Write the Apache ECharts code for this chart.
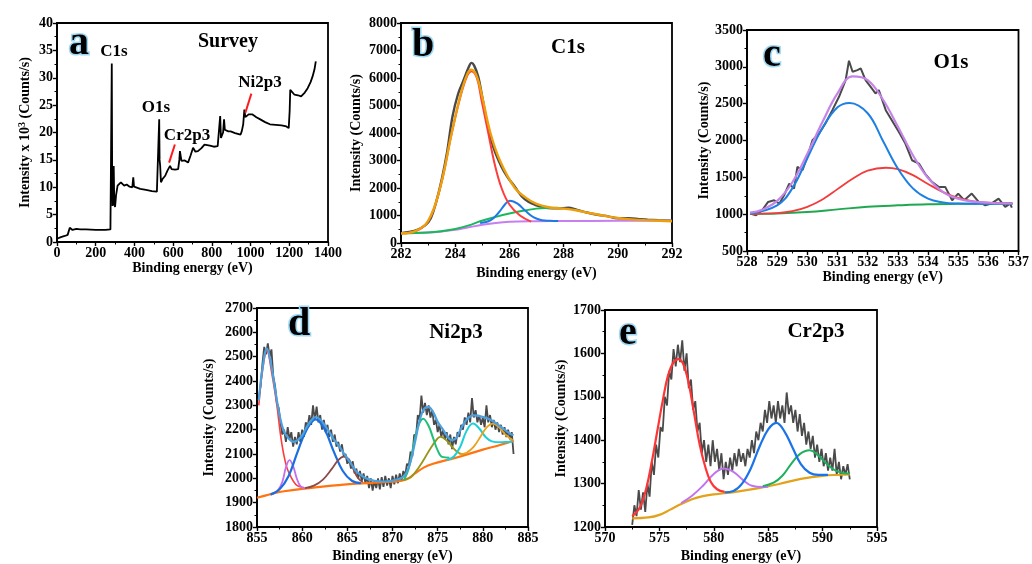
<!DOCTYPE html>
<html>
<head>
<meta charset="utf-8">
<style>html,body{margin:0;background:#fff}#chart{width:1032px;height:564px}</style>
</head>
<body>
<div id="chart"></div>
<script src="https://cdn.jsdelivr.net/npm/echarts@6/dist/echarts.min.js"></script>
<script>
// ---- (a) survey, intensity in 10^3 counts/s ----
var surveyData = [[0,0.6],[20,0.9],[40,1.1],[55,1.3],[62,1.5],[66,2.6],[70,2.3],[80,2.2],[100,2.4],[120,2.3],[150,2.3],[200,2.2],[250,2.2],[276,2.3],[280,2.6],[283,32.6],[285,12],[287,6.6],[290,7.5],[293,13.9],[296,7],[300,6.4],[305,8.5],[313,10.3],[320,10],[330,10.9],[340,10.6],[347,10.3],[360,10.5],[375,10.1],[389,10],[394,11.8],[398,10.1],[406,9.8],[430,9.7],[460,9.5],[490,9.3],[516,9.2],[525,9.1],[528,22.4],[530,15],[533,13.9],[537,10.9],[545,11.5],[559,12.1],[570,13],[584,13.9],[592,13.3],[610,13.2],[626,13.3],[632,15],[635,16.6],[643,14.8],[660,14.9],[677,14.5],[690,15.8],[703,17.2],[715,16.5],[728,16.6],[745,17.1],[762,17.8],[790,17.6],[810,17.4],[830,17.5],[838,17.2],[843,23],[847,19],[850,19.3],[858,20],[863,22.4],[867,20.5],[872,20.5],[885,20.2],[897,20.2],[920,19.9],[948,19.6],[955,20.3],[962,21.5],[968,24.2],[973,22.8],[979,23],[990,23.3],[999,23.6],[1010,23.3],[1030,22.8],[1050,22.4],[1075,21.9],[1100,21.5],[1130,21.4],[1160,21.3],[1185,21.1],[1197,20.8],[1202,24],[1205,27.8],[1212,27.5],[1227,26.9],[1245,26.8],[1261,26.6],[1280,27.3],[1295,28.1],[1310,29.2],[1320,30.2],[1330,31.5],[1337,33.0]];

// ---- (b) C1s ----
var c1sRaw = [[282.0,360],[282.3,400],[282.6,480],[282.9,650],[283.1,900],[283.3,1500],[283.5,2300],[283.7,3300],[283.9,4600],[284.1,5400],[284.3,5900],[284.5,6400],[284.6,6550],[284.7,6450],[284.85,6050],[285.0,5300],[285.2,4250],[285.4,3500],[285.6,3000],[285.8,2600],[286.0,2300],[286.2,2050],[286.45,1700],[286.7,1500],[286.94,1390],[287.2,1320],[287.43,1270],[287.8,1260],[288.17,1280],[288.5,1200],[288.9,1100],[289.3,1020],[289.64,970],[290.0,900],[290.4,900],[290.8,870],[291.1,850],[291.5,830],[292.0,810]];
var c1sEnvelope = [[282,350],[282.5,420],[283,800],[283.44,2000],[283.87,4000],[284.2,5400],[284.45,6150],[284.6,6300],[284.8,6050],[285.0,5300],[285.3,4000],[285.65,3000],[286.2,2000],[286.6,1650],[287,1420],[287.5,1290],[288,1250],[288.5,1180],[289,1080],[289.5,990],[290,910],[290.5,860],[291,830],[292,790]];
var c1sPeakCC = [[282,350],[282.5,415],[283,790],[283.44,1980],[283.87,3980],[284.2,5350],[284.45,6100],[284.6,6250],[284.8,6000],[284.97,5200],[285.22,4000],[285.45,2900],[285.71,2000],[286,1400],[286.39,1000],[286.8,780]];
var c1sPeakCO = [[284.92,727],[285.3,820],[285.6,1100],[285.85,1420],[286.02,1538],[286.3,1430],[286.6,1160],[286.9,930],[287.2,830],[287.5,810],[287.8,800]];
var c1sPeakOCO = [[282,350],[283,380],[283.5,430],[284,510],[284.5,640],[284.92,790],[285.5,950],[286,1070],[286.5,1170],[287,1250],[287.4,1275],[287.8,1282]];
var c1sBackground = [[282,360],[283,380],[283.5,420],[284,480],[284.5,570],[285,660],[285.5,730],[286,770],[287,790],[288,800],[290,805],[292,810]];

// ---- (c) O1s ----
var o1sRaw = [[528.1,1007],[528.3,985],[528.5,1053],[528.7,1166],[528.9,1189],[529.07,1143],[529.23,1257],[529.4,1415],[529.56,1347],[529.67,1642],[529.84,1596],[530.0,1778],[530.17,2004],[530.39,2095],[530.6,2231],[530.83,2412],[531.05,2593],[531.27,2820],[531.38,3083],[531.5,2933],[531.66,2956],[531.77,2978],[531.93,2820],[532.1,2729],[532.26,2639],[532.37,2684],[532.6,2412],[532.8,2276],[533.03,2118],[533.25,1959],[533.47,1732],[533.7,1687],[533.9,1551],[534.13,1438],[534.35,1370],[534.57,1370],[534.8,1189],[535.0,1279],[535.2,1189],[535.45,1279],[535.68,1166],[535.9,1121],[536.1,1143],[536.34,1211],[536.56,1098],[536.72,1143],[536.78,1089]];
var o1sEnvelope = [[528.1,1020],[528.5,1060],[529,1180],[529.5,1430],[530,1820],[530.5,2250],[531,2640],[531.5,2870],[532,2820],[532.5,2560],[533,2190],[533.5,1800],[534,1490],[534.5,1300],[535,1210],[535.5,1170],[536,1155],[536.8,1145]];
var o1sPeakLattice = [[528.1,1010],[529,1120],[529.5,1350],[530,1760],[530.5,2170],[531,2450],[531.4,2510],[532,2370],[532.5,2000],[533,1620],[533.5,1350],[534,1210],[534.5,1160],[535,1145],[535.5,1142],[536.8,1142]];
var o1sPeakAdsorbed = [[528.1,1005],[529,1015],[529.5,1040],[530,1100],[530.5,1200],[531,1340],[531.5,1480],[532,1590],[532.6,1630],[533,1610],[533.5,1530],[534,1410],[534.5,1300],[535,1220],[535.5,1175],[536,1155],[536.8,1145]];
var o1sBackground = [[528.1,1005],[529,1010],[530,1030],[531,1065],[532,1100],[533,1120],[534,1135],[535,1140],[536.8,1145]];

// ---- (d) Ni2p3 ----
var ni2pRaw = [
  [855.2,2330],[855.4,2380],[855.6,2470],[855.8,2540],[856.0,2510],[856.2,2555],[856.4,2500],[856.6,2530],[856.8,2420],[857.0,2380],
  [857.2,2310],[857.4,2290],[857.6,2230],[857.8,2180],[858.0,2200],[858.2,2150],[858.4,2210],[858.6,2160],[858.8,2190],[859.0,2130],
  [859.2,2170],[859.4,2140],[859.6,2190],[859.8,2150],[860.0,2200],[860.2,2170],[860.4,2230],[860.6,2210],[860.8,2260],[861.0,2220],
  [861.2,2300],[861.4,2240],[861.6,2295],[861.8,2230],[862.0,2260],[862.2,2200],[862.4,2240],[862.6,2190],[862.8,2220],[863.0,2170],
  [863.2,2200],[863.4,2150],[863.6,2180],[863.8,2130],[864.0,2150],[864.2,2110],[864.4,2140],[864.6,2090],[864.8,2100],[865.0,2060],
  [865.2,2080],[865.4,2040],[865.6,2070],[865.8,2020],[866.0,2040],[866.2,2000],[866.4,2030],[866.6,1990],[866.8,2020],[867.0,1980],
  [867.2,2010],[867.4,1960],[867.6,2000],[867.8,1950],[868.0,1990],[868.2,1960],[868.4,2000],[868.6,1955],[868.8,2005],[869.0,1965],
  [869.2,2010],[869.4,1970],[869.6,2000],[869.8,1960],[870.0,2010],[870.2,1975],[870.4,2015],[870.6,1980],[870.8,2020],[871.0,1990],
  [871.2,2030],[871.4,2010],[871.6,2060],[871.8,2050],[872.0,2110],[872.2,2090],[872.4,2180],[872.6,2170],[872.8,2260],[873.0,2240],
  [873.2,2340],[873.4,2270],[873.6,2310],[873.8,2260],[874.0,2300],[874.2,2250],[874.4,2280],[874.6,2220],[874.8,2240],[875.0,2190],
  [875.2,2220],[875.4,2170],[875.6,2200],[875.8,2160],[876.0,2190],[876.2,2140],[876.4,2180],[876.6,2120],[876.8,2170],[877.0,2140],
  [877.2,2190],[877.4,2170],[877.6,2220],[877.8,2200],[878.0,2250],[878.2,2220],[878.4,2270],[878.6,2230],[878.8,2330],[879.0,2250],
  [879.2,2280],[879.4,2230],[879.6,2260],[879.8,2220],[880.0,2250],[880.2,2210],[880.4,2300],[880.6,2230],[880.8,2260],[881.0,2210],
  [881.2,2240],[881.4,2200],[881.6,2230],[881.8,2190],[882.0,2220],[882.2,2180],[882.4,2210],[882.6,2170],[882.8,2200],[883.0,2160],
  [883.2,2190],[883.4,2100]
];
var ni2pEnvelope = [[855.2,2320],[855.6,2450],[856.1,2533],[856.6,2460],[857,2367],[857.5,2259],[858,2191],[858.5,2164],[859,2150],[859.5,2157],[860,2177],[860.5,2211],[861,2238],[861.5,2252],[862,2242],[862.5,2218],[863,2191],[863.5,2160],[864,2137],[864.5,2109],[865,2082],[865.5,2055],[866,2028],[867,2001],[868,1990],[869,1987],[870,1991],[871,2001],[871.5,2021],[872,2069],[872.5,2150],[873,2238],[873.5,2286],[874,2293],[874.5,2272],[875,2232],[875.5,2205],[876,2177],[876.5,2157],[877,2164],[877.5,2198],[878,2232],[878.5,2252],[879,2259],[880,2252],[881,2238],[882,2211],[883,2184],[883.4,2177]];
var ni2pPeak1 = [[855.2,2300],[855.6,2440],[856.1,2525],[856.6,2440],[857.2,2300],[857.6,2180],[857.95,2100],[858.3,2045],[858.7,2010],[859.3,1975],[859.8,1965],[860.2,1962]];
var ni2pPeak2 = [[856.7,1935],[857.3,1950],[857.8,1985],[858.2,2045],[858.6,2075],[859,2050],[859.4,2000],[859.8,1968],[860.3,1958]];
var ni2pPeak3 = [[856.5,1933],[857.5,1955],[858.5,2010],[859.5,2110],[860.5,2200],[861.5,2242],[862.5,2200],[863.5,2110],[864.5,2030],[865.5,1990],[866.5,1980]];
var ni2pPeak4 = [[860.3,1960],[861.3,1970],[862.3,1995],[863.3,2040],[864,2075],[864.6,2089],[865.2,2075],[865.7,2035],[866.2,2000],[866.7,1985]];
var ni2pPeak5 = [[871.3,1995],[871.8,2040],[872.3,2130],[872.8,2210],[873.4,2245],[874,2215],[874.5,2165],[875,2115],[875.5,2088],[876.3,2085]];
var ni2pPeak6 = [[871,1992],[872,2005],[873,2050],[874,2110],[874.7,2150],[875.3,2170],[876,2155],[876.7,2125],[877.3,2105],[878,2098]];
var ni2pPeak7 = [[876,2075],[876.8,2090],[877.5,2130],[878.2,2195],[878.9,2225],[879.6,2205],[880.3,2170],[881,2152],[882,2148],[883.3,2150]];
var ni2pPeak8 = [[877.4,2098],[878.2,2105],[879,2130],[879.8,2175],[880.5,2212],[881.1,2225],[881.8,2210],[882.5,2180],[883.3,2158]];
var ni2pBackground = [[855,1920],[856,1930],[857,1940],[858,1947],[860,1957],[862,1965],[864,1972],[866,1978],[868,1982],[870,1986],[871,1990],[871.8,2000],[872.5,2020],[873.5,2045],[874.5,2060],[876,2075],[878,2095],[880,2118],[882,2138],[883.4,2155]];

// ---- (e) Cr2p3 ----
var cr2pRaw = [
  [572.5,1205],[572.7,1250],[572.9,1225],[573.1,1285],[573.3,1240],[573.5,1280],[573.7,1235],[573.9,1300],[574.1,1270],[574.3,1350],
  [574.5,1320],[574.7,1390],[574.9,1360],[575.1,1430],[575.3,1420],[575.5,1500],[575.7,1480],[575.9,1560],[576.1,1540],[576.3,1610],
  [576.5,1570],[576.7,1620],[576.9,1580],[577.1,1630],[577.3,1560],[577.5,1600],[577.7,1520],[577.9,1540],[578.1,1470],[578.3,1490],
  [578.5,1420],[578.7,1440],[578.9,1370],[579.1,1400],[579.3,1350],[579.5,1390],[579.7,1340],[579.9,1400],[580.1,1350],[580.3,1380],
  [580.5,1330],[580.7,1370],[580.9,1310],[581.1,1350],[581.3,1320],[581.5,1360],[581.7,1330],[581.9,1370],[582.1,1340],[582.3,1380],
  [582.5,1350],[582.7,1370],[582.9,1340],[583.1,1380],[583.3,1360],[583.5,1400],[583.7,1370],[583.9,1420],[584.1,1400],[584.3,1440],
  [584.5,1420],[584.7,1470],[584.9,1440],[585.1,1490],[585.3,1450],[585.5,1480],[585.7,1440],[585.9,1490],[586.1,1450],[586.3,1480],
  [586.5,1440],[586.7,1510],[586.9,1460],[587.1,1480],[587.3,1440],[587.5,1470],[587.7,1420],[587.9,1460],[588.1,1410],[588.3,1440],
  [588.5,1390],[588.7,1420],[588.9,1380],[589.1,1410],[589.3,1360],[589.5,1390],[589.7,1350],[589.9,1380],[590.1,1340],[590.3,1370],
  [590.5,1330],[590.7,1360],[590.9,1330],[591.1,1380],[591.3,1320],[591.5,1350],[591.7,1310],[591.9,1340],[592.1,1320],[592.3,1345],
  [592.5,1310]
];
var cr2pPeak1 = [[572.5,1225],[573.2,1245],[573.8,1290],[574.3,1350],[574.8,1420],[575.3,1490],[575.8,1550],[576.3,1580],[576.75,1587],[577.2,1575],[577.7,1530],[578.2,1460],[578.7,1390],[579.2,1340],[579.7,1305],[580.3,1287],[581,1281]];
var cr2pPeak2 = [[577,1255],[578,1272],[579,1295],[580,1322],[580.9,1335],[581.8,1327],[582.7,1308],[583.5,1295],[584.5,1292],[585,1293]];
var cr2pPeak3 = [[581,1280],[581.8,1283],[582.6,1300],[583.4,1335],[584.2,1385],[585,1425],[585.75,1440],[586.5,1420],[587.2,1385],[588,1345],[588.8,1325],[589.6,1320],[590.5,1320]];
var cr2pPeak4 = [[584.5,1294],[585.5,1302],[586.3,1318],[587.1,1345],[587.9,1368],[588.8,1377],[589.6,1365],[590.4,1345],[591.2,1330],[592,1324],[592.5,1323]];
var cr2pBackground = [[572.5,1220],[574,1222],[575,1228],[576,1240],[577,1253],[578,1264],[579,1271],[580,1275],[582,1281],[584,1289],[586,1299],[588,1311],[590,1318],[592.5,1321]];

var FONT = 'Liberation Serif';
var chart = echarts.init(document.getElementById('chart'), null, {renderer: 'canvas'});

var grids = [
  {left: 57, top: 23, width: 271, height: 219},
  {left: 401, top: 23, width: 271, height: 220},
  {left: 747, top: 30, width: 272, height: 221},
  {left: 257, top: 308, width: 271, height: 221},
  {left: 605, top: 310, width: 272, height: 220}
];
grids.forEach(function (g) {
  g.show = true; g.borderColor = '#000'; g.borderWidth = 1.8; g.containLabel = false;
});

function plainNum(v) { return String(v); }

function xAxis(i, min, max, step, gap) {
  return {
    type: 'value', gridIndex: i, min: min, max: max, interval: step,
    name: 'Binding energy (eV)', nameLocation: 'middle', nameGap: gap,
    nameTextStyle: {fontFamily: FONT, fontWeight: 'bold', fontSize: 14, color: '#000'},
    axisLine: {lineStyle: {color: '#000', width: 1.8}},
    axisTick: {length: 4, lineStyle: {color: '#000', width: 1.4}},
    minorTick: {show: true, splitNumber: 2, length: 2.5, lineStyle: {color: '#000', width: 1}},
    axisLabel: {fontFamily: FONT, fontWeight: 'bold', fontSize: 14, color: '#000', margin: 4, formatter: plainNum},
    splitLine: {show: false}
  };
}
function yAxis(i, min, max, step, gap, name) {
  return {
    type: 'value', gridIndex: i, min: min, max: max, interval: step,
    name: name || 'Intensity (Counts/s)', nameLocation: 'middle', nameGap: gap,
    nameTextStyle: {fontFamily: FONT, fontWeight: 'bold', fontSize: 14, color: '#000',
      rich: {sup: {fontFamily: FONT, fontWeight: 'bold', fontSize: 10, color: '#000', verticalAlign: 'top', padding: [0, 0, 7, 0]}}},
    axisLine: {lineStyle: {color: '#000', width: 1.8}},
    axisTick: {length: 4, lineStyle: {color: '#000', width: 1.4}},
    minorTick: {show: true, splitNumber: 2, length: 2.5, lineStyle: {color: '#000', width: 1}},
    axisLabel: {fontFamily: FONT, fontWeight: 'bold', fontSize: 14, color: '#000', margin: 4, formatter: plainNum},
    splitLine: {show: false}
  };
}

function line(i, data, color, width, smooth, z) {
  return {
    type: 'line', xAxisIndex: i, yAxisIndex: i, data: data,
    symbol: 'none', smooth: smooth ? 0.4 : false, silent: true, z: z || 2,
    lineStyle: {color: color, width: width}, itemStyle: {color: color}
  };
}

var RAW = '#4a4a4a';

var surveySeries = line(0, surveyData, '#000', 1.8, false);
surveySeries.markLine = {
  silent: true, symbol: ['none', 'none'], label: {show: false},
  lineStyle: {color: '#ff1a1a', width: 2, type: 'solid'},
  data: [
    [{coord: [579, 14.5]}, {coord: [609, 17.8]}],
    [{coord: [973, 23.6]}, {coord: [1004, 27.1]}]
  ]
};

var series = [
  surveySeries,

  line(1, c1sRaw, RAW, 2.4, true, 2),
  line(1, c1sBackground, '#c77ef0', 2, true, 3),
  line(1, c1sPeakOCO, '#19b85a', 2, true, 4),
  line(1, c1sPeakCO, '#1f78e6', 2, true, 4),
  line(1, c1sPeakCC, '#ff3c3c', 2, true, 4),
  line(1, c1sEnvelope, '#eea00c', 2.4, true, 5),

  line(2, o1sRaw, RAW, 2, false, 2),
  line(2, o1sBackground, '#1fa84f', 2, true, 3),
  line(2, o1sPeakAdsorbed, '#f23c3c', 1.8, true, 4),
  line(2, o1sPeakLattice, '#1e80e2', 2, true, 4),
  line(2, o1sEnvelope, '#c584e8', 2.2, true, 5),

  line(3, ni2pRaw, RAW, 1.8, false, 2),
  line(3, ni2pBackground, '#ff7410', 2.2, true, 3),
  line(3, ni2pPeak1, '#ff3c3c', 1.6, true, 4),
  line(3, ni2pPeak2, '#c46ef0', 1.8, true, 4),
  line(3, ni2pPeak3, '#1a6fe0', 2.2, true, 4),
  line(3, ni2pPeak4, '#8c4a48', 1.8, true, 4),
  line(3, ni2pPeak6, '#96961c', 1.8, true, 4),
  line(3, ni2pPeak5, '#1fbf7a', 2, true, 4),
  line(3, ni2pPeak7, '#1ed0d6', 2, true, 4),
  line(3, ni2pPeak8, '#e8a31a', 1.8, true, 4),
  line(3, ni2pEnvelope, '#4ba0e0', 2.2, true, 5),

  line(4, cr2pRaw, RAW, 1.8, false, 2),
  line(4, cr2pBackground, '#e2a21c', 2.2, true, 3),
  line(4, cr2pPeak2, '#c274f0', 2, true, 4),
  line(4, cr2pPeak4, '#1eb05c', 2, true, 4),
  line(4, cr2pPeak3, '#1a73e8', 2.2, true, 4),
  line(4, cr2pPeak1, '#ff3434', 2.2, true, 4)
];

function letter(t, x, y) {
  return {type: 'text', z: 100, style: {text: t, x: x, y: y, align: 'center', verticalAlign: 'middle',
    font: 'bold 40px "Liberation Serif"', fill: '#000', stroke: '#9ed8f4', lineWidth: 3, strokeFirst: true}};
}
function label(t, x, y, size) {
  return {type: 'text', z: 100, style: {text: t, x: x, y: y, align: 'center', verticalAlign: 'middle',
    font: 'bold ' + size + 'px "Liberation Serif"', fill: '#000'}};
}

var option = {
  animation: false,
  backgroundColor: '#fff',
  textStyle: {fontFamily: FONT},
  grid: grids,
  xAxis: [
    xAxis(0, 0, 1400, 200, 17),
    xAxis(1, 282, 292, 2, 23),
    xAxis(2, 528, 537, 1, 16),
    xAxis(3, 855, 885, 5, 22),
    xAxis(4, 570, 595, 5, 22)
  ],
  yAxis: [
    yAxis(0, 0, 40, 5, 23, 'Intensity x 10{sup|3} (Counts/s)'),
    yAxis(1, 0, 8000, 1000, 38),
    yAxis(2, 500, 3500, 500, 36),
    yAxis(3, 1800, 2700, 100, 41),
    yAxis(4, 1200, 1700, 100, 37)
  ],
  series: series,
  graphic: [
    letter('a', 79, 44), letter('b', 423, 46), letter('c', 772, 56), letter('d', 299, 325), letter('e', 628, 334),
    label('Survey', 228, 42, 20), label('C1s', 568, 48, 21), label('O1s', 951, 63, 21),
    label('Ni2p3', 456, 333, 21), label('Cr2p3', 816, 332, 21),
    label('C1s', 114, 52, 17), label('O1s', 156, 108, 17), label('Cr2p3', 187, 136, 17), label('Ni2p3', 260, 83, 17)
  ]
};
chart.setOption(option);
</script>
</body>
</html>
